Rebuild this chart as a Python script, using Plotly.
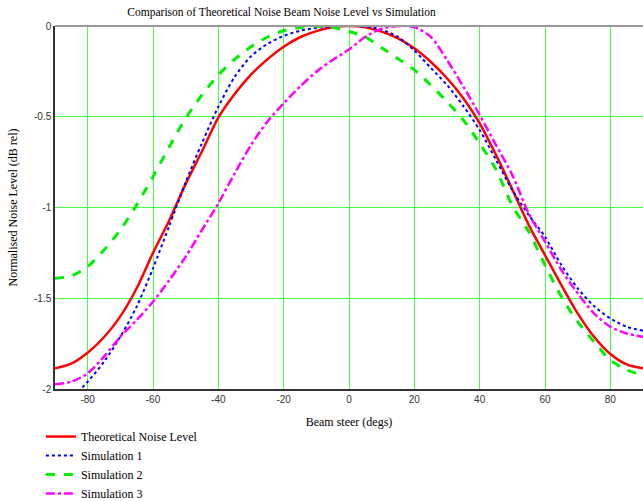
import plotly.graph_objects as go

angles = [-90, -85, -80, -75, -70, -65, -60, -55, -50, -45, -40, -35, -30, -25, -20, -15, -10, -5,
          0, 5, 10, 15, 20, 25, 30, 35, 40, 45, 50, 55, 60, 65, 70, 75, 80, 85, 90]

theoretical = [-1.886, -1.86, -1.80, -1.715, -1.60, -1.445, -1.25, -1.07, -0.87, -0.69, -0.505, -0.375,
               -0.268, -0.184, -0.114, -0.062, -0.028, -0.007, 0.0, -0.007, -0.031, -0.068, -0.123,
               -0.197, -0.288, -0.398, -0.536, -0.71, -0.90, -1.096, -1.262, -1.427, -1.583, -1.712,
               -1.807, -1.864, -1.886]

simulation1 = [-2.12, -2.05, -1.96, -1.85, -1.712, -1.546, -1.335, -1.10, -0.86, -0.645, -0.445,
               -0.28, -0.167, -0.099, -0.055, -0.026, -0.011, -0.003, 0.0, -0.003, -0.02, -0.06,
               -0.135, -0.23, -0.325, -0.441, -0.573, -0.738, -0.904, -1.041, -1.161, -1.317, -1.445,
               -1.543, -1.611, -1.657, -1.679]

simulation2 = [-1.39, -1.377, -1.326, -1.234, -1.124, -0.986, -0.83, -0.665, -0.509, -0.38, -0.27,
               -0.184, -0.114, -0.062, -0.026, -0.008, -0.001, -0.008, -0.03, -0.06, -0.12, -0.18,
               -0.242, -0.325, -0.417, -0.518, -0.647, -0.79, -0.99, -1.133, -1.317, -1.491, -1.629,
               -1.74, -1.84, -1.895, -1.923]

simulation3 = [-1.974, -1.96, -1.914, -1.822, -1.712, -1.62, -1.519, -1.40, -1.271, -1.124, -0.977,
               -0.812, -0.656, -0.527, -0.426, -0.334, -0.252, -0.187, -0.13, -0.059, -0.015, 0.0,
               -0.006, -0.059, -0.187, -0.334, -0.49, -0.656, -0.821, -1.032, -1.188, -1.344, -1.473,
               -1.583, -1.657, -1.694, -1.712]

series_names = ["Theoretical Noise Level", "Simulation 1", "Simulation 2", "Simulation 3"]

x_tick_vals = [-80, -60, -40, -20, 0, 20, 40, 60, 80]
x_tick_text = ["-80", "-60", "-40", "-20", "0", "20", "40", "60", "80"]
y_tick_vals = [0, -0.5, -1, -1.5, -2]
y_tick_text = ["0", "-0.5", "-1", "-1.5", "-2"]

styles = [
    dict(color="#ff0000", width=2.5, dash="solid"),
    dict(color="#0000ff", width=2, dash="dot"),
    dict(color="#00ee00", width=3, dash="dash"),
    dict(color="#ff00ff", width=2.5, dash="dashdot"),
]

fig = go.Figure()
for name, ys, st in zip(series_names, [theoretical, simulation1, simulation2, simulation3], styles):
    fig.add_trace(go.Scatter(x=angles, y=ys, mode="lines", name=name,
                             line=dict(color=st["color"], width=st["width"], dash=st["dash"],
                                       shape="spline", smoothing=0.8)))

grid_col = "#44ff44"
fig.update_layout(
    width=643, height=501,
    margin=dict(l=55, r=0, t=26, b=112, autoexpand=False),
    paper_bgcolor="white", plot_bgcolor="white",
    font=dict(family="Liberation Serif, Times New Roman, serif", size=12, color="#000000"),
    title=dict(text="Comparison of Theoretical Noise Beam Noise Level vs Simulation",
               x=281.5 / 643, xanchor="center", y=1 - 12 / 501, yanchor="middle",
               font=dict(family="Liberation Serif, serif", size=11.5, color="#000000")),
    showlegend=True,
    legend=dict(x=-0.024, xanchor="left", y=-0.091, yanchor="top", bgcolor="rgba(0,0,0,0)",
                font=dict(family="Liberation Serif, serif", size=12), tracegroupgap=0),
    xaxis=dict(range=[-90, 90], tickvals=x_tick_vals, ticktext=x_tick_text, automargin=False,
               showgrid=True, gridcolor=grid_col, gridwidth=1, zeroline=False,
               showline=True, linecolor="#333333", linewidth=1.5, ticks="",
               tickfont=dict(family="Liberation Sans, Arial, sans-serif", size=10, color="#333333"),
               title=dict(text="Beam steer (degs)", standoff=14,
                          font=dict(family="Liberation Serif, serif", size=12))),
    yaxis=dict(range=[-2, 0], tickvals=y_tick_vals, ticktext=y_tick_text, automargin=False,
               showgrid=True, gridcolor=grid_col, gridwidth=1, zeroline=False,
               showline=True, linecolor="#333333", linewidth=1.5, ticks="",
               tickfont=dict(family="Liberation Sans, Arial, sans-serif", size=10, color="#333333"),
               title=dict(text="Normalised Noise Level (dB rel)", standoff=14,
                          font=dict(family="Liberation Serif, serif", size=12))),
)
fig.add_shape(type="line", xref="paper", yref="paper", x0=0, x1=1, y0=1, y1=1,
              line=dict(color="#999999", width=2))
fig.write_html("out.html", config={"displayModeBar": False},
               post_script="document.body.style.margin='0';document.body.style.overflow='hidden';")
